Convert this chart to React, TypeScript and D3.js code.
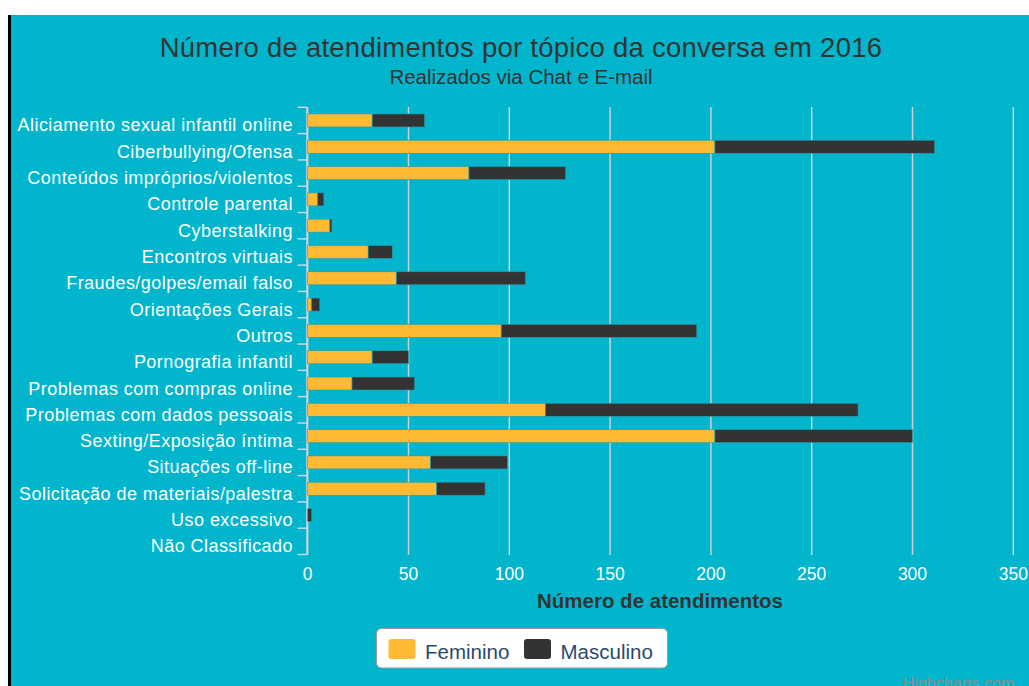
import React from "react";
import * as d3 from "d3";

const categories = [
  "Aliciamento sexual infantil online",
  "Ciberbullying/Ofensa",
  "Conteúdos impróprios/violentos",
  "Controle parental",
  "Cyberstalking",
  "Encontros virtuais",
  "Fraudes/golpes/email falso",
  "Orientações Gerais",
  "Outros",
  "Pornografia infantil",
  "Problemas com compras online",
  "Problemas com dados pessoais",
  "Sexting/Exposição íntima",
  "Situações off-line",
  "Solicitação de materiais/palestra",
  "Uso excessivo",
  "Não Classificado",
];
const feminino = [32, 202, 80, 5, 11, 30, 44, 2, 96, 32, 22, 118, 202, 61, 64, 0, 0];
const masculino = [26, 109, 48, 3, 1, 12, 64, 4, 97, 18, 31, 155, 98, 38, 24, 2, 0];
const xTicks = [0, 50, 100, 150, 200, 250, 300, 350];
const seriesNames = ["Feminino", "Masculino"];
const seriesColors = ["#FFB933", "#333333"];

const W = 1029;
const H = 686;
const FONT = "'Liberation Sans', Arial, sans-serif";

export default function App() {
  const x = d3.scaleLinear().domain([0, 350]).range([307.7, 1013.3]);
  const y = d3.scaleBand<string>().domain(categories).range([107.3, 554.5]).padding(0);
  const bw = y.bandwidth();
  const barH = 13;
  const stack = d3.stack<number>().keys(["f", "m"]).value((i, k) => (k === "f" ? feminino[i] : masculino[i]));
  const series = stack(categories.map((_, i) => i));
  const boundaries = d3.range(categories.length + 1).map((i) => 107.3 + i * bw);

  return (
    <svg
      width={W}
      height={H}
      style={{ position: "absolute", left: 0, top: 0, display: "block" }}
      fontFamily={FONT}
    >
      <rect x={0} y={0} width={W} height={H} fill="#ffffff" />
      <rect x={8} y={15} width={3} height={H - 15} fill="#000000" />
      <rect x={11} y={15} width={W - 11} height={H - 15} fill="#00B5CC" />

      <text x={521} y={57} textAnchor="middle" fontSize={27.5} letterSpacing={0.25} fill="#333333">
        Número de atendimentos por tópico da conversa em 2016
      </text>
      <text x={521} y={84} textAnchor="middle" fontSize={20.5} fill="#333333">
        Realizados via Chat e E-mail
      </text>

      {/* grid lines */}
      {xTicks.map((t) => (
        <line key={"g" + t} x1={x(t)} x2={x(t)} y1={107} y2={555} stroke="#c6d3d8" strokeWidth={1.5} />
      ))}

      {/* y axis line and ticks */}
      <line x1={307} x2={307} y1={107} y2={555} stroke="#ccd6eb" strokeWidth={1.5} />
      {boundaries.map((b, i) => (
        <line key={"t" + i} x1={297.5} x2={307} y1={b} y2={b} stroke="#ccd6eb" strokeWidth={1.5} />
      ))}

      {/* bars */}
      {series.map((s, si) => (
        <g key={si}>
          {s.map((d, i) => {
            const w = x(d[1]) - x(d[0]);
            if (w <= 0) return null;
            const cy = (y(categories[i]) as number) + bw / 2;
            return (
              <rect
                key={i}
                x={x(d[0])}
                y={cy - barH / 2}
                width={w}
                height={barH}
                fill={seriesColors[si]}
                stroke="#2a9aab"
                strokeWidth={0.6}
              />
            );
          })}
        </g>
      ))}

      {/* category labels */}
      {categories.map((c) => (
        <text
          key={c}
          x={293}
          y={(y(c) as number) + bw / 2 + 11}
          textAnchor="end"
          fontSize={18}
          letterSpacing={0.45}
          fill="#ffffff"
        >
          {c}
        </text>
      ))}

      {/* x tick labels */}
      {xTicks.map((t) => (
        <text key={"l" + t} x={x(t)} y={580} textAnchor="middle" fontSize={17.5} fill="#ffffff">
          {t}
        </text>
      ))}

      <text x={660} y={608} textAnchor="middle" fontSize={20.5} fontWeight="bold" fill="#333333">
        Número de atendimentos
      </text>

      {/* legend */}
      <rect x={376.5} y={628.5} width={291} height={39.5} rx={5} fill="#ffffff" stroke="#999999" strokeWidth={1} />
      {seriesNames.map((n, i) => {
        const sx = i === 0 ? 388.5 : 524;
        return (
          <g key={n}>
            <rect x={sx} y={639} width={27} height={20} rx={3} fill={seriesColors[i]} />
            <text x={sx + 36.5} y={659} fontSize={20.5} fill="#2b4a6b">
              {n}
            </text>
          </g>
        );
      })}

      <text x={1014} y={689} textAnchor="end" fontSize={16} fill="#8c8c8c">
        Highcharts.com
      </text>
    </svg>
  );
}
